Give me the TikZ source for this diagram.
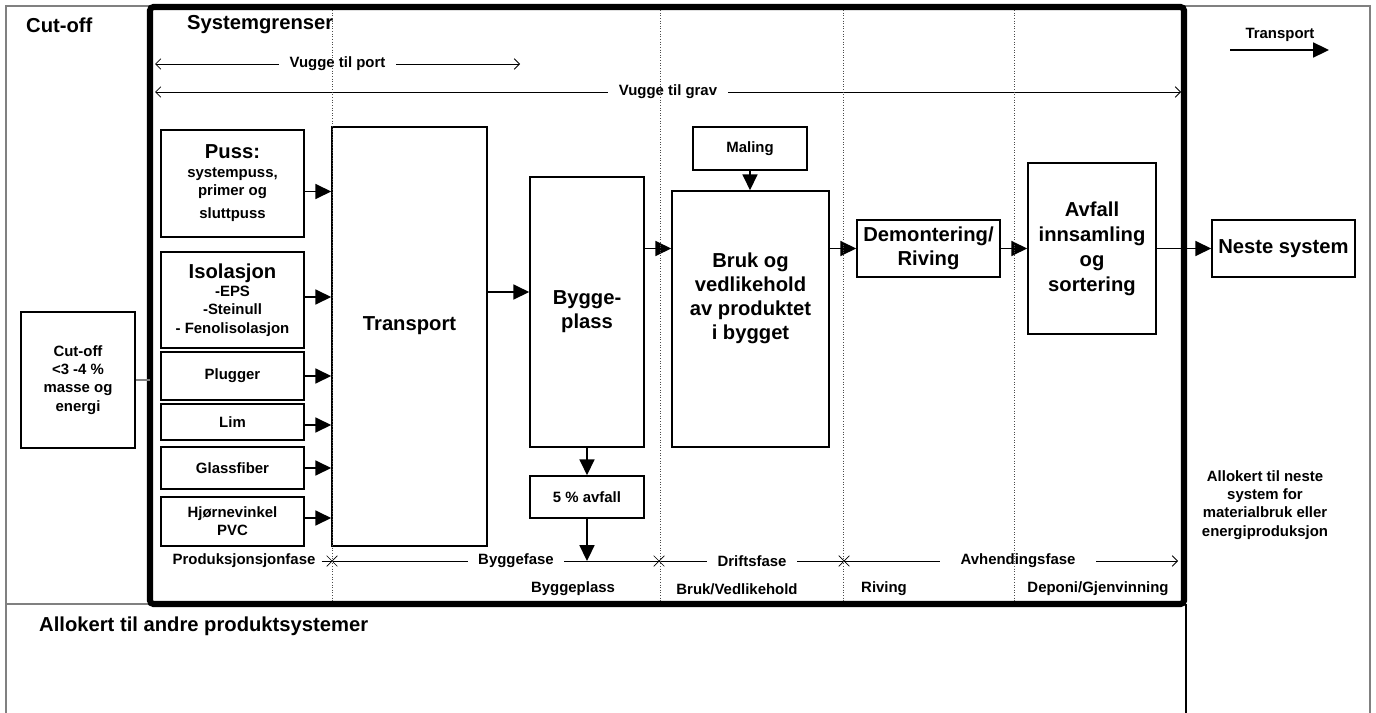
\documentclass[tikz,border=0pt]{standalone}
\usepackage{fontspec}
\setmainfont{Liberation Sans}
\usepackage{tikz}
\usetikzlibrary{arrows.meta}
\usetikzlibrary{shapes.misc}
\definecolor{framegray}{RGB}{128,128,128}
\newcommand{\bigtext}{\fontsize{11.5}{13.6}\selectfont\bfseries}
\newcommand{\smalltext}{\fontsize{8.5}{10.4}\selectfont\bfseries}
\tikzset{
    px/.style 2 args={minimum width=#1*0.02cm, minimum height=#2*0.02cm},
    box/.style={draw, line width=0.9pt, align=center, inner sep=1pt},
    bigbox/.style={box, font=\bigtext},
    smallbox/.style={box, font=\smalltext},
    flow/.style={-{Triangle[length=9pt, width=8.5pt]}, line width=1pt},
    span/.style={{Straight Barb[length=3pt, width=6pt]}-{Straight Barb[length=3pt, width=6pt]}, line width=0.5pt},
    phase/.style={fill=white, inner xsep=6pt, inner ysep=1pt, font=\smalltext},
    divider/.style={densely dotted, line width=0.5pt, black!70},
    crossmark/.style={draw, cross out, line width=0.4pt, minimum size=0.2cm, inner sep=0pt},
    thinframe/.style={framegray, line width=0.6pt},
    sysframe/.style={line width=3.5pt, rounded corners=2pt}
}

\begin{document}
\begin{tikzpicture}[x=0.02cm, y=-0.02cm]
    \useasboundingbox (0,0) rectangle (1376,713);

    % frames
    \draw[thinframe] (6,713) -- (6,6) -- (1370,6) -- (1370,713);
    \draw[thinframe] (6,604) -- (150,604);
    \draw[line width=0.6pt] (1186,604) -- (1186,713);
    \draw[sysframe] (150,7) rectangle (1184,604);

    \node[anchor=west, font=\bigtext] (cutofftitle) at (20,25) {Cut-off};
    \node[anchor=west, font=\bigtext] (systitle) at (181,25) {Systemgrenser};
    \node[anchor=west, font=\bigtext] (andre) at (33,626) {Allokert til andre produktsystemer};
    \node[font=\smalltext, align=center] (nestealloc) at (1265,505)
        {Allokert til neste\\system for\\materialbruk eller\\energiproduksjon};

    % legend
    \node[font=\smalltext] (legend) at (1280,35) {Transport};
    \coordinate (legA) at (1230,50);
    \coordinate (legB) at (1329,50);
    \draw[flow] (legA) -- (legB);

    % spans
    \coordinate (portL) at (155,64);
    \coordinate (portR) at (520,64);
    \coordinate (gravL) at (155,92);
    \coordinate (gravR) at (1181,92);
    \draw[span] (portL) -- (portR) node[midway, phase] {Vugge til port};
    \draw[span] (gravL) -- (gravR) node[midway, phase] {Vugge til grav};

    % boxes
    \node[smallbox, px={114}{136}] (cutoffbox) at (78,380) {Cut-off\\<3 -4 \%\\masse og\\energi};
    \node[smallbox, px={143}{107}] (puss) at (232.5,183.5)
        {{\bigtext Puss:}\\systempuss,\\primer og\\[3pt]sluttpuss};
    \node[smallbox, px={143}{96}] (iso) at (232.5,300)
        {{\bigtext Isolasjon}\\-EPS\\-Steinull\\- Fenolisolasjon};
    \node[smallbox, px={143}{48}] (plugger) at (232.5,376) {Plugger};
    \node[smallbox, px={143}{36}] (lim) at (232.5,422) {Lim};
    \node[smallbox, px={143}{42}] (glass) at (232.5,468) {Glassfiber};
    \node[smallbox, px={143}{49}] (hjorne) at (232.5,521.5) {Hjørnevinkel\\PVC};
    \node[bigbox, px={155}{419}] (transport) at (409.5,336.5) {};
    \node[font=\bigtext] (transporttext) at ([yshift=0.22cm]transport.center) {Transport};
    \node[bigbox, px={114}{270}] (bygge) at (587,312) {Bygge-\\plass};
    \node[smallbox, px={114}{42}] (avfall5) at (587,497) {5 \% avfall};
    \node[smallbox, px={114}{43}] (maling) at (750,148.5) {Maling};
    \node[bigbox, px={157}{256}] (bruk) at (750.5,319) {};
    \node[font=\bigtext, align=center] (bruktext) at ([yshift=0.42cm]bruk.center)
        {Bruk og\\vedlikehold\\av produktet\\i bygget};
    \node[bigbox, px={143}{57}] (demont) at (928.5,248.5) {Demontering/\\Riving};
    \node[bigbox, px={128}{171}, font=\fontsize{11.5}{14.2}\selectfont\bfseries] (avfall) at (1092,248.5)
        {Avfall\\innsamling\\og\\sortering};
    \node[bigbox, px={143}{57}] (neste) at (1283.5,248.5) {Neste system};

    % flows
    \coordinate (sysleft) at (150,380);
    \draw[thinframe] (cutoffbox.east) -- (sysleft);
    \draw[flow] ([yshift=-0.16cm]puss.east) -- ([yshift=-0.16cm]puss.east -| transport.west);
    \draw[flow] ([yshift=0.06cm]iso.east) -- ([yshift=0.06cm]iso.east -| transport.west);
    \draw[flow] (plugger.east) -- (plugger.east -| transport.west);
    \draw[flow] ([yshift=-0.06cm]lim.east) -- ([yshift=-0.06cm]lim.east -| transport.west);
    \draw[flow] (glass.east) -- (glass.east -| transport.west);
    \draw[flow] ([yshift=0.07cm]hjorne.east) -- ([yshift=0.07cm]hjorne.east -| transport.west);
    \draw[flow] ([yshift=0.89cm]transport.east) -- ([yshift=0.89cm]transport.east -| bygge.west);
    \draw[flow] (bygge.east |- demont) -- (bruk.west |- demont);
    \draw[flow] (bruk.east |- demont) -- (demont.west);
    \draw[flow] (demont.east) -- (avfall.west);
    \draw[flow] (avfall.east) -- (neste.west);
    \draw[flow] (maling.south) -- (maling.south |- bruk.north);
    \draw[flow] (bygge.south) -- (avfall5.north);

    % phases
    \node[font=\smalltext] (prodfase) at (244,561) {Produksjonsjonfase};
    \coordinate (phaseend) at (1178,561);
    \draw[line width=0.5pt, -{Straight Barb[length=3pt, width=6pt]}] (prodfase.east) -- (phaseend);
    \draw[flow] (avfall5.south) -- (avfall5.south |- phaseend);
    \node[phase] (byggefase) at (516,561) {Byggefase};
    \node[phase] (driftsfase) at (752,561) {Driftsfase};
    \node[phase, inner xsep=12pt] (avhending) at (1018,561) {Avhendingsfase};
    \foreach \x/\name in {332/xa, 659/xb, 844/xc}
        \node[crossmark] (\name) at (\x,561) {};

    \node[font=\smalltext] (byggeplass) at (573,589) {Byggeplass};
    \node[font=\smalltext] (brukvedl) at (737,589) {Bruk/Vedlikehold};
    \node[font=\smalltext, anchor=west] (riving) at (855,589) {Riving};
    \node[font=\smalltext] (deponi) at (1098,589) {Deponi/Gjenvinning};

    % dividers
    \foreach \x in {332, 660, 843, 1014}
        \draw[divider] (\x,10) -- (\x,601);
\end{tikzpicture}
\end{document}
